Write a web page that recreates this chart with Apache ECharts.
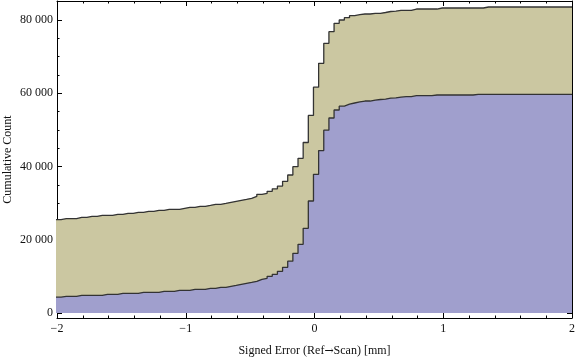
<!DOCTYPE html>
<html><head><meta charset="utf-8">
<script src="https://cdn.jsdelivr.net/npm/echarts@6/dist/echarts.min.js"></script>
<style>html,body{margin:0;padding:0;background:#fff}#c{width:576px;height:359px}</style>
</head><body><div id="c"></div>
<script>
// Histogram bins (left edge of first bin, bin width) in mm
const binStart = -2.008;
const binWidth = 0.04;
// Cumulative count of the lower (blue) group, one value per bin
const lowerCounts = [
  4350, 4560, 4560, 4560, 4830, 4830, 4830, 4830, 4830, 5110,
  5110, 5110, 5380, 5380, 5380, 5380, 5650, 5650, 5650, 5650,
  5920, 5920, 5920, 6200, 6200, 6200, 6470, 6470, 6470, 6740,
  6740, 7020, 7020, 7290, 7560, 7840, 8110, 8380, 8660, 9200,
  9470, 10020, 10570, 11390, 12480, 14150, 16300, 18760, 23130, 30580,
  37870, 44350, 49930, 53250, 55430, 56480, 57020, 57340, 57620, 57880,
  57880, 58150, 58300, 58420, 58650, 58750, 58950, 59060, 59060, 59330,
  59330, 59330, 59330, 59520, 59520, 59520, 59520, 59520, 59520, 59520,
  59520, 59710, 59710, 59710, 59710, 59710, 59710, 59710, 59710, 59710,
  59710, 59710, 59710, 59710, 59710, 59710, 59710, 59710, 59710, 59710
];
// Cumulative count of both groups together (upper, tan boundary), one value per bin
const upperCounts = [
  25475, 25750, 25750, 25750, 26130, 26130, 26400, 26400, 26675, 26675,
  26675, 26950, 26950, 27220, 27220, 27500, 27500, 27770, 27770, 28040,
  28040, 28310, 28310, 28310, 28590, 28860, 28860, 29130, 29130, 29400,
  29680, 29680, 29950, 30230, 30500, 30770, 31040, 31320, 31860, 32410,
  32680, 33230, 33900, 34650, 35960, 37680, 39950, 42240, 46550, 53960,
  61650, 68180, 73640, 76810, 79100, 80000, 80630, 81180, 81450, 81640,
  81640, 81820, 81820, 82050, 82320, 82450, 82640, 82640, 82640, 83000,
  83000, 83000, 83000, 83000, 83280, 83280, 83280, 83280, 83280, 83280,
  83280, 83280, 83280, 83550, 83550, 83550, 83550, 83550, 83550, 83550,
  83550, 83550, 83550, 83550, 83550, 83550, 83550, 83550, 83550, 83550
];
const xTickValues = [-2, -1, 0, 1, 2];
const yTickValues = [0, 20000, 40000, 60000, 80000];
const yMinorTickValues = [5000, 10000, 15000, 25000, 30000, 35000, 45000, 50000, 55000, 65000, 70000, 75000];
const xRange = [-2, 2];
const yRange = [-1365, 85190];

function stepData(counts) {
  const d = counts.map((c, i) => [binStart + i * binWidth, c]);
  d.push([xRange[1], counts[counts.length - 1]]);
  return d;
}
const font = 'Liberation Serif';
const txt = { fontFamily: font, fontSize: 12, color: '#111' };
const lineC = { color: '#000', width: 1 };
const fmtX = v => (v < 0 ? '\u2212' + Math.abs(v) : String(v));
const fmtY = v => String(v).replace(/\B(?=(\d{3})+(?!\d))/g, ' ');

function xAx(pos, main) {
  return {
    type: 'value', position: pos, min: xRange[0], max: xRange[1], interval: 1,
    axisLine: { show: true, onZero: false, lineStyle: lineC },
    axisTick: { show: true, inside: true, length: 5, lineStyle: lineC },
    minorTick: { show: true, splitNumber: 5, length: 2.5, lineStyle: lineC },
    axisLabel: main ? Object.assign({ show: true, margin: 5, formatter: fmtX }, txt) : { show: false },
    splitLine: { show: false }, minorSplitLine: { show: false },
    name: main ? '{a|Signed Error (Ref}{b|\u2192}{a|Scan) [mm]}' : '',
    nameLocation: 'middle', nameGap: 27, nameMoveOverlap: false,
    nameTextStyle: Object.assign({ rich: { a: txt, b: { fontFamily: 'DejaVu Serif', fontSize: 11, color: '#111' } } }, txt)
  };
}
function yAx(pos, main, minor) {
  return {
    type: 'value', position: pos, min: yRange[0], max: yRange[1],
    axisLine: { show: !minor, onZero: false, lineStyle: lineC },
    axisTick: { show: true, inside: true, length: minor ? 2.5 : 5, customValues: minor ? yMinorTickValues : yTickValues, lineStyle: lineC },
    axisLabel: (main && !minor) ? Object.assign({ show: true, margin: 4, customValues: yTickValues, formatter: fmtY }, txt) : { show: false },
    splitLine: { show: false },
    name: (main && !minor) ? 'Cumulative Count' : '',
    nameLocation: 'middle', nameGap: 43, nameRotate: 90, nameMoveOverlap: false, nameTextStyle: txt
  };
}

const chart = echarts.init(document.getElementById('c'), null, { renderer: 'canvas' });
chart.setOption({
  animation: false,
  backgroundColor: '#fff',
  grid: { left: 57, right: 4, top: 1, bottom: 41, containLabel: false, outerBoundsMode: 'none' },
  xAxis: [xAx('bottom', true), xAx('top', false)],
  yAxis: [yAx('left', true, false), yAx('left', true, true), yAx('right', false, false), yAx('right', false, true)],
  series: [
    {
      type: 'line', step: 'end', xAxisIndex: 0, yAxisIndex: 0, symbol: 'none',
      data: stepData(upperCounts),
      lineStyle: { color: '#333', width: 1.3 },
      areaStyle: { color: '#CBC7A1', opacity: 1, origin: 0 }
    },
    {
      type: 'line', step: 'end', xAxisIndex: 0, yAxisIndex: 0, symbol: 'none',
      data: stepData(lowerCounts),
      lineStyle: { color: '#333', width: 1.3 },
      areaStyle: { color: '#A09FCD', opacity: 1, origin: 0 }
    }
  ]
});
</script></body></html>
